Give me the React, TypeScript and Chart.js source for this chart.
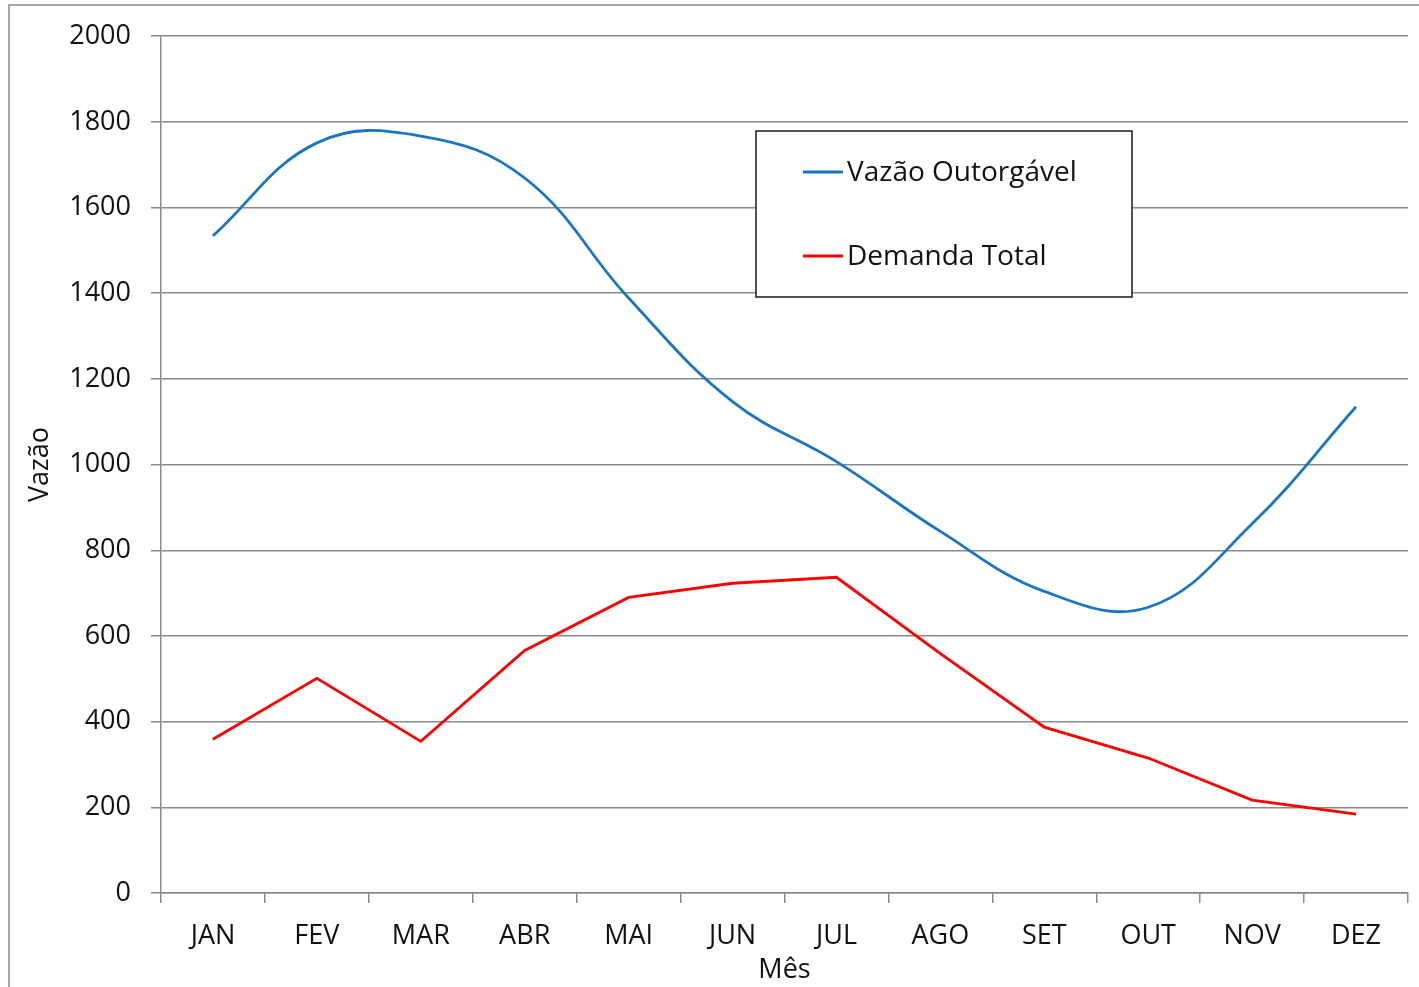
import React, { useEffect, useRef } from "react";
import { Chart, registerables } from "chart.js";

Chart.register(...registerables);

const months = ["JAN", "FEV", "MAR", "ABR", "MAI", "JUN", "JUL", "AGO", "SET", "OUT", "NOV", "DEZ"];
const vazaoOutorgavel = [1534, 1751, 1767, 1669, 1389, 1147, 1007, 844, 704, 667, 862, 1135];
const demandaTotal = [359, 501, 354, 566, 690, 723, 737, 559, 387, 315, 217, 184];
const yTicks = [0, 200, 400, 600, 800, 1000, 1200, 1400, 1600, 1800, 2000];

const FONT = "'Open Sans', sans-serif";
const GRAY = "#8a8a8a";
const TEXT = "#111111";

const framePlugin = {
  id: "frame",
  afterDraw(chart: any) {
    const ctx = chart.ctx as CanvasRenderingContext2D;
    ctx.save();
    ctx.strokeStyle = "#8c8c8c";
    ctx.lineWidth = 1.5;
    ctx.beginPath();
    ctx.moveTo(9, 987);
    ctx.lineTo(9, 5);
    ctx.lineTo(1419, 5);
    ctx.stroke();
    const x0 = 756, y0 = 131, x1 = 1132, y1 = 297;
    ctx.fillStyle = "#ffffff";
    ctx.fillRect(x0, y0, x1 - x0, y1 - y0);
    ctx.strokeStyle = "#1a1a1a";
    ctx.lineWidth = 1.5;
    ctx.strokeRect(x0, y0, x1 - x0, y1 - y0);
    const items = chart.data.datasets;
    const ys = [172, 256];
    ctx.font = `28px ${FONT}`;
    ctx.textBaseline = "middle";
    ctx.textAlign = "left";
    items.forEach((ds: any, i: number) => {
      ctx.strokeStyle = ds.borderColor;
      ctx.lineWidth = 2.8;
      ctx.beginPath();
      ctx.moveTo(803, ys[i]);
      ctx.lineTo(843, ys[i]);
      ctx.stroke();
      ctx.fillStyle = TEXT;
      ctx.fillText(ds.label, 847, ys[i] + 1);
    });
    ctx.restore();
  },
};

export default function App() {
  const ref = useRef<HTMLCanvasElement | null>(null);
  useEffect(() => {
    document.body.style.margin = "0";
    const chart = new Chart(ref.current as HTMLCanvasElement, {
      type: "line",
      data: {
        labels: months,
        datasets: [
          {
            label: "Vazão Outorgável",
            data: vazaoOutorgavel,
            borderColor: "#1a75c2",
            borderWidth: 2.8,
            pointRadius: 0,
            tension: 0.4,
            fill: false,
          },
          {
            label: "Demanda Total",
            data: demandaTotal,
            borderColor: "#ff0000",
            borderWidth: 2.8,
            pointRadius: 0,
            tension: 0,
            fill: false,
          },
        ],
      },
      options: {
        responsive: false,
        animation: false,
        devicePixelRatio: 1,
        layout: { padding: { left: 0, top: 34, right: 11, bottom: 0 } },
        plugins: { legend: { display: false }, tooltip: { enabled: false } },
        scales: {
          x: {
            offset: true,
            grid: {
              offset: true,
              drawOnChartArea: false,
              drawTicks: true,
              tickLength: 10,
              color: GRAY,
              lineWidth: 1.5,
            },
            border: { color: GRAY, width: 1.5 },
            ticks: {
              color: TEXT,
              font: { family: FONT, size: 27 },
              padding: 17,
              maxRotation: 0,
            },
            title: {
              display: true,
              text: "Mês",
              color: TEXT,
              font: { family: FONT, size: 27 },
              padding: { top: 2, bottom: 0 },
            },
            afterFit(scale: any) {
              scale.height = 987 - 893;
            },
          },
          y: {
            min: 0,
            max: 2000,
            afterBuildTicks(scale: any) {
              scale.ticks = yTicks.map((v) => ({ value: v }));
            },
            grid: {
              color: GRAY,
              lineWidth: 1.5,
              drawTicks: true,
              tickLength: 10,
            },
            border: { color: GRAY, width: 1.5 },
            ticks: {
              color: TEXT,
              font: { family: FONT, size: 27 },
              padding: 20,
              callback: (v: any) => String(v),
            },
            title: {
              display: true,
              text: "Vazão",
              color: TEXT,
              font: { family: FONT, size: 27 },
              padding: { top: 24, bottom: 0 },
            },
            afterFit(scale: any) {
              scale.width = 161;
            },
          },
        },
      },
      plugins: [framePlugin],
    });
    return () => chart.destroy();
  }, []);
  return (
    <div style={{ position: "absolute", left: 0, top: 0, width: 1419, height: 987, background: "#fff" }}>
      <canvas ref={ref} width={1419} height={987} />
    </div>
  );
}
